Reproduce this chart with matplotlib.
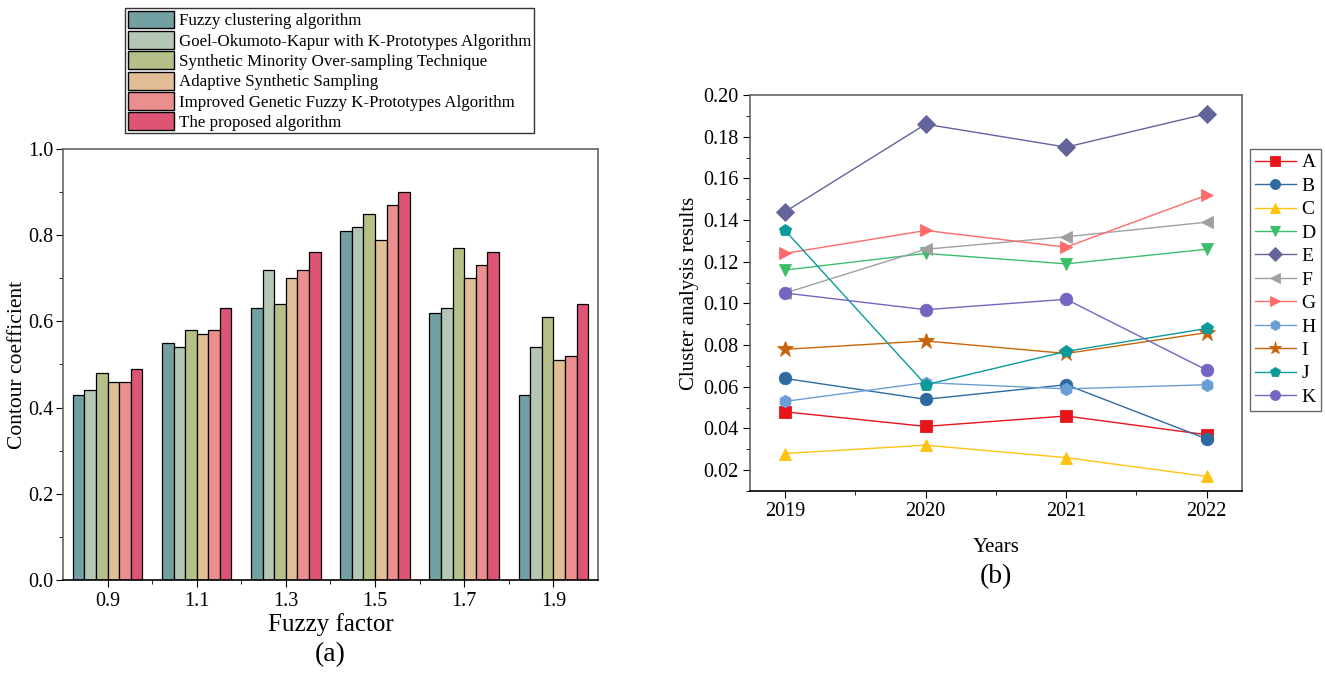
import matplotlib
matplotlib.use("Agg")
import matplotlib.pyplot as plt
import numpy as np
from matplotlib.patches import Patch
from matplotlib.ticker import MultipleLocator, FixedLocator, FormatStrFormatter

plt.rcParams['font.family'] = ['Liberation Serif', 'DejaVu Serif']

# ---- panel (a) data ----
fuzzy_factors = ["0.9", "1.1", "1.3", "1.5", "1.7", "1.9"]
method_names = [
    "Fuzzy clustering algorithm",
    "Goel-Okumoto-Kapur with K-Prototypes Algorithm",
    "Synthetic Minority Over-sampling Technique",
    "Adaptive Synthetic Sampling",
    "Improved Genetic Fuzzy K-Prototypes Algorithm",
    "The proposed algorithm",
]
fuzzy_clustering = [0.43, 0.55, 0.63, 0.81, 0.62, 0.43]
gokkp = [0.44, 0.54, 0.72, 0.82, 0.63, 0.54]
smote = [0.48, 0.58, 0.64, 0.85, 0.77, 0.61]
adasyn = [0.46, 0.57, 0.70, 0.79, 0.70, 0.51]
igfkp = [0.46, 0.58, 0.72, 0.87, 0.73, 0.52]
proposed = [0.49, 0.63, 0.76, 0.90, 0.76, 0.64]
bar_colors = ["#73a0a2", "#b3c7b4", "#b5c088", "#e2be96", "#ea8f8e", "#dd5475"]

# ---- panel (b) data ----
years = [2019, 2020, 2021, 2022]
series_names = ["A", "B", "C", "D", "E", "F", "G", "H", "I", "J", "K"]
A = [0.048, 0.041, 0.046, 0.037]
B = [0.064, 0.054, 0.061, 0.035]
C = [0.028, 0.032, 0.026, 0.017]
D = [0.116, 0.124, 0.119, 0.126]
E = [0.144, 0.186, 0.175, 0.191]
F = [0.105, 0.126, 0.132, 0.139]
G = [0.124, 0.135, 0.127, 0.152]
H = [0.053, 0.062, 0.059, 0.061]
I = [0.078, 0.082, 0.076, 0.086]
J = [0.135, 0.061, 0.077, 0.088]
K = [0.105, 0.097, 0.102, 0.068]
line_colors = ["#e8141b", "#2e6aa0", "#ffc20e", "#3bbf6b", "#62649a", "#a0a0a0",
               "#ff6a6a", "#6a9fd6", "#c8650a", "#0a9a9a", "#7466c0"]
line_markers = ["s", "o", "^", "v", "D", "<", ">", "h", "*", "p", "o"]

fig = plt.figure(figsize=(13.25, 6.73), dpi=100)

# ---------------- (a) ----------------
ax1 = fig.add_axes([0.0475, 0.1382, 0.4038, 0.6404])
bar_series = [fuzzy_clustering, gokkp, smote, adasyn, igfkp, proposed]
x = 0.9 + 0.2 * np.arange(len(fuzzy_factors))
w = 0.026
for i, vals in enumerate(bar_series):
    ax1.bar(x + (i - 2.5) * w, vals, w, color=bar_colors[i], edgecolor="black",
            linewidth=0.9)
ax1.set_xlim(0.8, 2.0)
ax1.set_ylim(0, 1.0)
ax1.set_xticks(x)
ax1.set_xticklabels(fuzzy_factors)
ax1.xaxis.set_minor_locator(FixedLocator(x[:-1] + 0.1))
ax1.yaxis.set_major_locator(MultipleLocator(0.2))
ax1.yaxis.set_minor_locator(MultipleLocator(0.1))
ax1.yaxis.set_major_formatter(FormatStrFormatter("%.1f"))
ax1.tick_params(axis="both", which="major", direction="out", length=5, pad=2,
                labelsize=14.5)
ax1.tick_params(axis="x", which="major", pad=4)
ax1.tick_params(axis="both", which="minor", direction="out", length=3)
ax1.set_ylabel("Contour coefficient", fontsize=15.5)
ax1.yaxis.set_label_coords(-0.068, 0.5)
ax1.set_xlabel("Fuzzy factor", fontsize=18, labelpad=1)
for s in ["top", "right", "left"]:
    ax1.spines[s].set_color("#666666")
ax1.spines["bottom"].set_color("black")
for s in ax1.spines.values():
    s.set_linewidth(1.2)
fig.text(0.249, 0.027, "(a)", ha="center", va="center", fontsize=20)

handles = [Patch(facecolor=c, edgecolor="black", linewidth=1.0) for c in bar_colors]
leg1 = fig.legend(handles, method_names, loc="upper left",
                  bbox_to_anchor=(125 / 1325, 1 - 8 / 673), fontsize=12.2,
                  frameon=True, fancybox=False, edgecolor="black",
                  handlelength=2.75, handleheight=1.25, handletextpad=0.3,
                  labelspacing=0.1, borderpad=0.15, borderaxespad=0)
leg1.get_frame().set_linewidth(1.0)

# ---------------- (b) ----------------
ax2 = fig.add_axes([0.566, 0.2704, 0.3713, 0.5884])
line_series = [A, B, C, D, E, F, G, H, I, J, K]
for i, vals in enumerate(line_series):
    ms = 12 if line_markers[i] == "*" else 9
    ax2.plot(years, vals, color=line_colors[i], marker=line_markers[i],
             markersize=ms, linewidth=1.0, markeredgewidth=0.6,
             markeredgecolor=line_colors[i], label=series_names[i])
ax2.set_xlim(2018.75, 2022.25)
ax2.set_ylim(0.01, 0.20)
ax2.set_xticks(years)
ax2.xaxis.set_minor_locator(MultipleLocator(0.5))
ax2.yaxis.set_major_locator(MultipleLocator(0.02))
ax2.yaxis.set_minor_locator(MultipleLocator(0.01))
ax2.yaxis.set_major_formatter(FormatStrFormatter("%.2f"))
ax2.tick_params(axis="both", which="major", direction="out", length=5, pad=3,
                labelsize=14.5)
ax2.tick_params(axis="both", which="minor", direction="out", length=3)
ax2.set_xlabel("Years", fontsize=15, labelpad=12)
ax2.set_ylabel("Cluster analysis results", fontsize=15)
ax2.yaxis.set_label_coords(-0.104, 0.5)
for s in ["top", "right", "left"]:
    ax2.spines[s].set_color("#666666")
ax2.spines["bottom"].set_color("black")
for s in ax2.spines.values():
    s.set_linewidth(1.2)
fig.text(0.752, 0.143, "(b)", ha="center", va="center", fontsize=20)

leg2 = fig.legend(loc="upper left", bbox_to_anchor=(1250 / 1325, 1 - 149 / 673),
                  fontsize=14, frameon=True, fancybox=False, edgecolor="#444444",
                  handlelength=2.1, handletextpad=0.3, labelspacing=0.3,
                  borderpad=0.25, borderaxespad=0, markerscale=0.8)
leg2.get_frame().set_linewidth(1.0)

fig.savefig("out.png", dpi=100)
